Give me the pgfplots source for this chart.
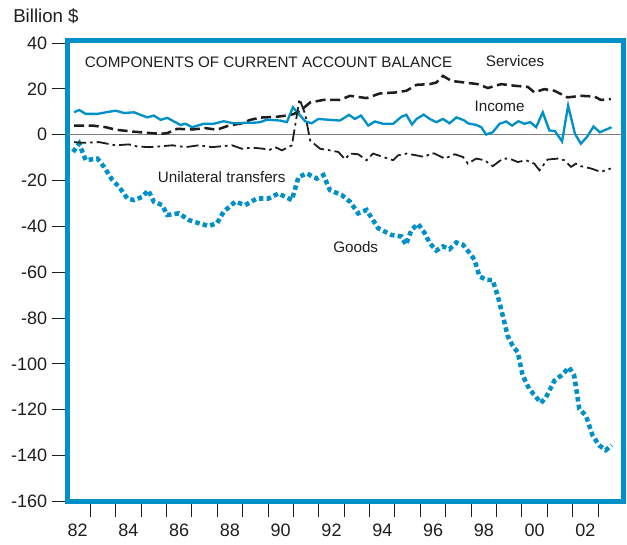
\documentclass[border=0pt]{standalone}
\usepackage{pgfplots}
\pgfplotsset{compat=1.18}
\usepackage{fontspec}
\setmainfont{Liberation Sans}
\definecolor{cblue}{RGB}{0,144,200}
\definecolor{ink}{RGB}{30,30,30}
\begin{document}
\begin{tikzpicture}
\path[use as bounding box] (0,0) rectangle (470.25pt,408pt);
\begin{axis}[
  at={(50.6pt,31.9pt)}, anchor=south west,
  width=417pt, height=345.5pt, scale only axis,
  xmin=1982.1, xmax=2004, ymin=-160, ymax=41,
  axis line style={line width=3.75pt, draw=cblue},
  tick pos=left, tick align=outside,
  major tick length=11.7pt,
  tick style={line width=0.75pt, ink},
  xtick={1983,...,2003}, xticklabels={},
  extra x ticks={1982.5,1984.5,...,2002.5},
  extra x tick labels={82,84,86,88,90,92,94,96,98,00,02},
  extra x tick style={major tick length=0pt, tick label style={yshift=-13pt}},
  ytick={-160,-140,...,40},
  yticklabels={-160,-140,-120,-100,-80,-60,-40,-20,0,20,40},
  tick label style={font=\fontsize{13.5}{16}\selectfont, text=ink},
  clip=true,
]
\addplot[gray, line width=1pt] coordinates {(1982,0) (2004,0)};

% Goods
\addplot[cblue, line width=3.4pt, dash pattern=on 3.4pt off 2.4pt] coordinates {
(1982.32,-7.5) (1982.56,-3.9) (1982.82,-11.1) (1983.28,-10.4) (1983.54,-14) (1983.87,-19.8) (1984.13,-22.7) (1984.46,-27.8) (1984.72,-28.5) (1985.05,-27.1) (1985.28,-24.2) (1985.5,-29.2) (1985.83,-30.7) (1986.03,-35) (1986.49,-34.3) (1986.88,-37.2) (1987.27,-38.6) (1987.66,-39.8) (1987.99,-38.6) (1988.25,-33.6) (1988.71,-29.2) (1989.1,-30.7) (1989.56,-27.8) (1990.02,-27.8) (1990.41,-25.6) (1990.94,-28.5) (1991.2,-18.4) (1991.53,-16.9) (1991.92,-19.1) (1992.18,-17.6) (1992.44,-24.2) (1992.9,-26.3) (1993.23,-29.2) (1993.55,-34.3) (1993.88,-32.8) (1994.34,-40.8) (1994.86,-43.7) (1995.26,-44.4) (1995.43,-48) (1995.65,-41.5) (1995.91,-38.9) (1996.17,-42.9) (1996.37,-47.3) (1996.63,-50.5) (1996.89,-48.7) (1997.15,-49.9) (1997.42,-47) (1997.68,-48) (1997.94,-51.6) (1998.13,-54.5) (1998.33,-61.8) (1998.59,-63.2) (1998.85,-63.5) (1999.05,-70.4) (1999.25,-79.1) (1999.44,-87.8) (1999.64,-92.1) (1999.84,-95) (2000.03,-105.1) (2000.29,-110.9) (2000.56,-114.5) (2000.75,-117) (2000.95,-114.5) (2001.28,-107.3) (2001.54,-105.1) (2001.86,-101.5) (2002.06,-105.1) (2002.26,-119.6) (2002.52,-122.5) (2002.78,-131.1) (2003.04,-135.5) (2003.3,-137.6) (2003.54,-135.5)
};

% Services
\addplot[ink, line width=1.9pt, dash pattern=on 7.5pt off 3.5pt] coordinates {
(1982.36,4.0) (1983.09,4.0) (1983.61,3.3) (1984.0,2.2) (1984.66,1.4) (1985.18,0.9) (1985.77,0.4) (1986.03,0.7) (1986.42,2.6) (1987.01,2.3) (1987.53,2.9) (1987.99,2.2) (1988.45,4.0) (1988.97,5.0) (1989.3,6.5) (1989.7,7.5) (1990.3,7.8) (1990.74,8.4) (1991.0,9.0) (1991.27,10.5) (1991.66,14.1) (1992.18,15.2) (1992.83,15.2) (1993.23,17.0) (1993.88,16.0) (1994.4,18.0) (1995.06,18.5) (1995.45,19.2) (1995.85,21.8) (1996.37,22.1) (1996.63,22.8) (1996.89,25.7) (1997.22,23.5) (1997.74,22.8) (1998.26,22.1) (1998.66,20.4) (1999.18,22.1) (1999.7,21.4) (2000.23,20.9) (2000.49,18.5) (2000.88,19.9) (2001.28,19.2) (2001.8,16.3) (2002.32,17.0) (2002.85,16.7) (2003.11,15.2) (2003.5,15.6)
};

% Income
\addplot[cblue, line width=1.75pt] coordinates {
(1982.36,9.8) (1982.56,10.8) (1982.82,9.1) (1983.28,9.1) (1983.61,9.8) (1984.0,10.5) (1984.33,9.5) (1984.72,9.8) (1984.98,8.7) (1985.24,7.6) (1985.5,8.4) (1985.77,6.5) (1986.03,7.4) (1986.23,6.2) (1986.55,4.3) (1986.75,4.8) (1987.01,3.3) (1987.47,4.8) (1987.86,4.8) (1988.25,5.9) (1988.65,5.0) (1989.1,5.2) (1989.5,5.3) (1989.69,5.5) (1989.96,6.6) (1990.48,6.2) (1990.74,5.5) (1990.98,12.0) (1991.27,8.4) (1991.46,5.9) (1991.72,5.0) (1991.98,6.9) (1992.44,6.5) (1992.83,6.2) (1993.19,8.7) (1993.42,6.9) (1993.66,8.4) (1993.95,4.0) (1994.21,5.8) (1994.53,4.8) (1994.93,4.8) (1995.26,7.9) (1995.45,8.7) (1995.67,4.5) (1995.85,6.9) (1996.13,8.8) (1996.37,6.9) (1996.63,5.5) (1996.89,6.9) (1997.15,5.0) (1997.42,7.6) (1997.74,6.2) (1997.87,5.0) (1998.2,4.3) (1998.4,3.3) (1998.59,0.1) (1998.85,1.1) (1999.12,4.8) (1999.38,5.8) (1999.61,4.0) (1999.86,5.9) (2000.1,4.8) (2000.33,5.5) (2000.56,3.3) (2000.82,9.8) (2001.08,1.9) (2001.3,1.6) (2001.58,-2.9) (2001.82,12.7) (2002.09,0.4) (2002.32,-3.9) (2002.58,-0.7) (2002.82,3.6) (2003.07,1.1) (2003.53,3.3)
};

% Unilateral transfers
\addplot[ink, line width=1.35pt, dash pattern=on 9pt off 3pt on 2pt off 3pt] coordinates {
(1982.36,-3.2) (1982.69,-3.5) (1983.34,-3.2) (1984.0,-4.6) (1984.52,-4.2) (1984.85,-5.1) (1985.31,-5.4) (1985.7,-5.1) (1986.23,-4.6) (1986.75,-5.4) (1987.27,-4.6) (1987.8,-5.4) (1988.58,-4.6) (1988.97,-6.1) (1989.37,-5.6) (1989.82,-6.1) (1990.02,-6.8) (1990.28,-5.4) (1990.55,-6.8) (1990.94,-4.6) (1991.24,15.6) (1991.46,9.1) (1991.66,-2.5) (1992.05,-6.1) (1992.44,-6.8) (1992.77,-7.5) (1993.03,-10.7) (1993.23,-8.2) (1993.55,-8.5) (1993.88,-11.1) (1994.14,-8.2) (1994.53,-9.7) (1994.93,-11.1) (1995.12,-9.0) (1995.45,-8.2) (1995.85,-9.0) (1996.17,-9.7) (1996.43,-8.0) (1996.56,-8.2) (1996.96,-10.4) (1997.35,-8.5) (1997.68,-9.7) (1997.87,-12.6) (1998.2,-10.4) (1998.53,-11.1) (1998.85,-13.7) (1999.25,-10.4) (1999.51,-10.4) (1999.84,-11.9) (2000.16,-11.1) (2000.49,-12.6) (2000.69,-15.5) (2001.01,-10.8) (2001.41,-10.4) (2001.67,-11.1) (2001.93,-14.0) (2002.13,-12.6) (2002.32,-13.7) (2002.72,-14.7) (2003.11,-16.2) (2003.5,-14.7)
};

\node[anchor=west, font=\fontsize{11.4}{13}\selectfont, text=ink, inner sep=0pt] at (axis cs:1982.78,31.8) {COMPONENTS OF CURRENT ACCOUNT BALANCE};
\node[anchor=west, font=\fontsize{11.4}{13}\selectfont, text=ink, inner sep=0pt] at (axis cs:1998.57,32.2) {Services};
\node[anchor=west, font=\fontsize{11.4}{13}\selectfont, text=ink, inner sep=0pt] at (axis cs:1998.13,12.3) {Income};
\node[anchor=west, font=\fontsize{11.4}{13}\selectfont, text=ink, inner sep=0pt] at (axis cs:1985.65,-18.5) {Unilateral transfers};
\node[anchor=west, font=\fontsize{11.4}{13}\selectfont, text=ink, inner sep=0pt] at (axis cs:1992.56,-48.9) {Goods};
\end{axis}
\node[anchor=west, font=\fontsize{14}{16}\selectfont, text=ink, inner sep=0pt] at (9.75pt,396pt) {Billion \$};
\end{tikzpicture}
\end{document}
